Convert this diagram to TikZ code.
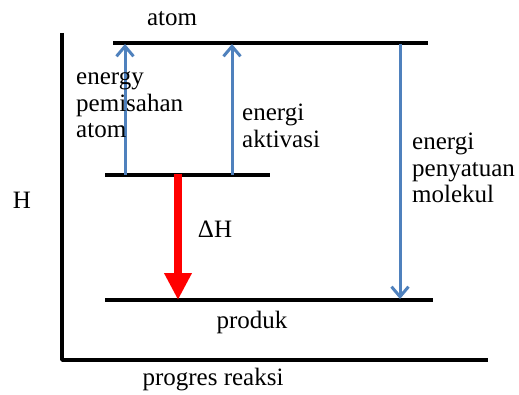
\documentclass[tikz,border=0pt]{standalone}
\usepackage{fontspec}
\setmainfont{Liberation Serif}
\newfontfamily\lblfont{Liberation Serif}
\usetikzlibrary{arrows.meta}
\definecolor{lineblue}{HTML}{4F81BD}
\begin{document}
\begin{tikzpicture}[x=1pt,y=1pt,
  level/.style={line width=3.2pt},
  axisline/.style={line width=3.4pt, line join=round},
  bluearrow/.style={draw=lineblue, line width=3pt, -{Straight Barb[length=10pt,width=17pt,line width=3pt]}},
  redarrow/.style={draw=red, line width=8pt, -{Triangle[length=27pt,width=26pt]}},
  lbl/.style={inner sep=0pt, font=\lblfont\fontsize{25}{26.5}\selectfont, align=left}]
\useasboundingbox (0,0) rectangle (519,394);
% axes
\coordinate (ytop) at (62,361);
\coordinate (origin) at (62,34);
\coordinate (xend) at (488,34);
\draw[axisline] (ytop) -- (origin) -- (xend);
% levels
\coordinate (tL) at (113,351); \coordinate (tR) at (428,351);
\coordinate (mL) at (105,219); \coordinate (mR) at (270,219);
\coordinate (bL) at (105,94);  \coordinate (bR) at (433,94);
\draw[level] (tL) -- (tR);
\draw[level] (mL) -- (mR);
\draw[level] (bL) -- (bR);
% arrow endpoints
\coordinate (a1s) at (125,219); \coordinate (a1e) at (125,350);
\coordinate (a2s) at (232,219); \coordinate (a2e) at (232,350);
\coordinate (a3s) at (400,350); \coordinate (a3e) at (400,95);
\coordinate (rs) at (178,220);  \coordinate (re) at (178,94);
\draw[bluearrow] (a1s) -- (a1e);
\draw[bluearrow] (a2s) -- (a2e);
\draw[bluearrow] (a3s) -- (a3e);
\draw[redarrow] (rs) -- (re);
% labels
\node[lbl] (atom) at (172,375) {atom};
\node[lbl, anchor=west] (pemisahan) at (76,289) {energy\\pemisahan\\atom};
\node[lbl, anchor=west] (aktivasi) at (242,268) {energi\\aktivasi};
\node[lbl, anchor=west] (penyatuan) at (412,226) {energi\\penyatuan\\molekul};
\node[lbl] (dH) at (215,165) {ΔH};
\node[lbl] (produk) at (252,72) {produk};
\node[lbl] (H) at (22,194) {H};
\node[lbl] (progres) at (213,14) {progres reaksi};
\end{tikzpicture}
\end{document}
